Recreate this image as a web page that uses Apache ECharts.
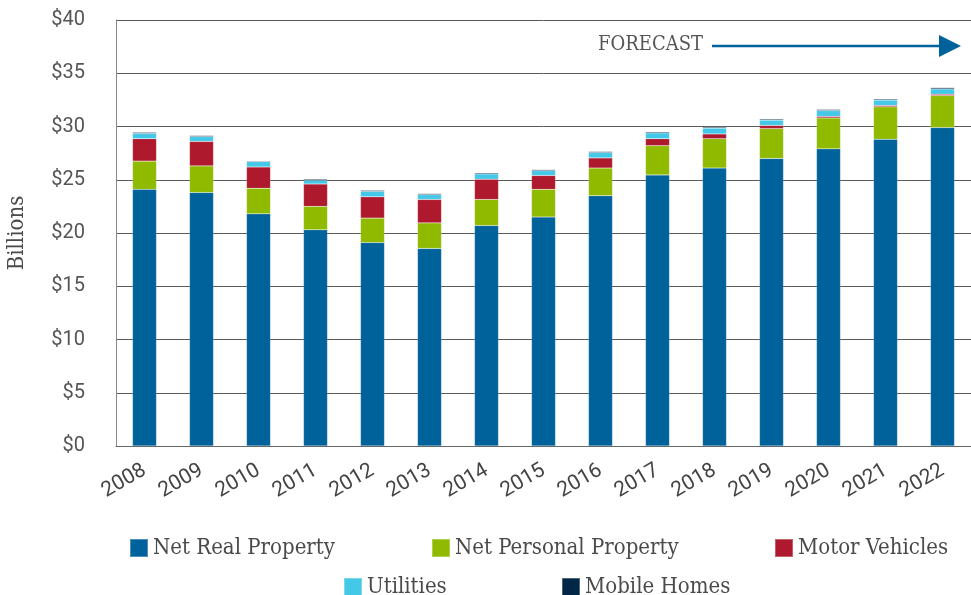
<!DOCTYPE html>
<html>
<head>
<meta charset="utf-8">
<script src="https://cdn.jsdelivr.net/npm/echarts@6/dist/echarts.min.js"></script>
<style>
  html, body { margin: 0; padding: 0; background: #fff; }
  #chart { width: 971px; height: 595px; }
</style>
</head>
<body>
<div id="chart"></div>
<script>
'use strict';

var years = ['2008', '2009', '2010', '2011', '2012', '2013', '2014', '2015',
  '2016', '2017', '2018', '2019', '2020', '2021', '2022'];

// values in billions of dollars
var netReal = [24.1, 23.8, 21.8, 20.3, 19.1, 18.55, 20.7, 21.5, 23.5, 25.45, 26.1, 27.0, 27.9, 28.8, 29.9];
var netPersonal = [2.65, 2.5, 2.4, 2.2, 2.3, 2.4, 2.45, 2.6, 2.6, 2.75, 2.75, 2.8, 2.9, 3.05, 3.0];
var motorVehicles = [2.1, 2.3, 2.0, 2.1, 2.0, 2.2, 1.9, 1.3, 0.95, 0.65, 0.45, 0.3, 0.15, 0.13, 0.13];
var utilities = [0.5, 0.45, 0.5, 0.35, 0.5, 0.45, 0.5, 0.45, 0.5, 0.55, 0.55, 0.5, 0.55, 0.5, 0.5];
var mobileHomes = [0.1, 0.1, 0.07, 0.1, 0.1, 0.1, 0.1, 0.1, 0.1, 0.1, 0.1, 0.1, 0.1, 0.1, 0.12];

var yTicks = [0, 5, 10, 15, 20, 25, 30, 35, 40];

var slab = '"DejaVu Serif Condensed", "DejaVu Serif", serif';

function barSeries(name, data, color) {
  return {
    name: name,
    type: 'bar',
    stack: 'total',
    barWidth: 24,
    data: data,
    itemStyle: {
      color: color,
      borderColor: 'rgba(255,255,255,0.3)',
      borderWidth: 0.5
    }
  };
}

function legendAt(name, left, top) {
  return {
    data: [name],
    left: left,
    top: top,
    itemWidth: 18,
    itemHeight: 18,
    itemGap: 0,
    icon: 'rect',
    padding: 0,
    selectedMode: false,
    textStyle: {
      fontFamily: slab,
      fontSize: 22,
      color: '#4a4a4a',
      padding: [0, 0, 0, 0]
    }
  };
}

var option = {
  animation: false,
  backgroundColor: '#fff',
  grid: {
    left: 116,
    right: 0,
    top: 20,
    bottom: 149,
    outerBoundsMode: 'none'
  },
  legend: [
    legendAt('Net Real Property', 129, 537),
    legendAt('Net Personal Property', 431, 537),
    legendAt('Motor Vehicles', 774, 537),
    legendAt('Utilities', 343, 576),
    legendAt('Mobile Homes', 561, 576)
  ],
  xAxis: {
    type: 'category',
    data: years,
    axisTick: { show: false },
    axisLine: { lineStyle: { color: '#666', width: 1 } },
    axisLabel: {
      rotate: 30,
      margin: 23,
      fontFamily: 'Roboto',
      fontSize: 21,
      color: '#444'
    }
  },
  yAxis: {
    type: 'value',
    min: yTicks[0],
    max: yTicks[yTicks.length - 1],
    interval: 5,
    name: 'Billions',
    nameLocation: 'middle',
    nameGap: 88,
    nameRotate: 90,
    nameTextStyle: {
      fontFamily: slab,
      fontSize: 22,
      color: '#4a4a4a'
    },
    axisLine: { show: true, lineStyle: { color: '#888', width: 1 } },
    axisTick: { show: false },
    axisLabel: {
      margin: 31,
      fontFamily: 'Roboto',
      fontSize: 20,
      color: '#555',
      formatter: '${value}'
    },
    splitLine: { lineStyle: { color: '#5a5a5a', width: 1 } }
  },
  graphic: [
    {
      type: 'text',
      left: 598,
      top: 35,
      style: {
        text: 'FORECAST',
        font: '20px ' + slab,
        fill: '#555'
      }
    },
    {
      type: 'line',
      shape: { x1: 712, y1: 46, x2: 942, y2: 46 },
      style: { stroke: '#00629b', lineWidth: 2.5 }
    },
    {
      type: 'polygon',
      shape: { points: [[939, 35], [961, 46], [939, 57]] },
      style: { fill: '#00629b' }
    }
  ],
  series: [
    barSeries('Net Real Property', netReal, '#00629b'),
    barSeries('Net Personal Property', netPersonal, '#8fba00'),
    barSeries('Motor Vehicles', motorVehicles, '#ae192d'),
    barSeries('Utilities', utilities, '#43c8e8'),
    barSeries('Mobile Homes', mobileHomes, '#012646')
  ]
};

var myChart = echarts.init(document.getElementById('chart'));
myChart.setOption(option);
</script>
</body>
</html>
